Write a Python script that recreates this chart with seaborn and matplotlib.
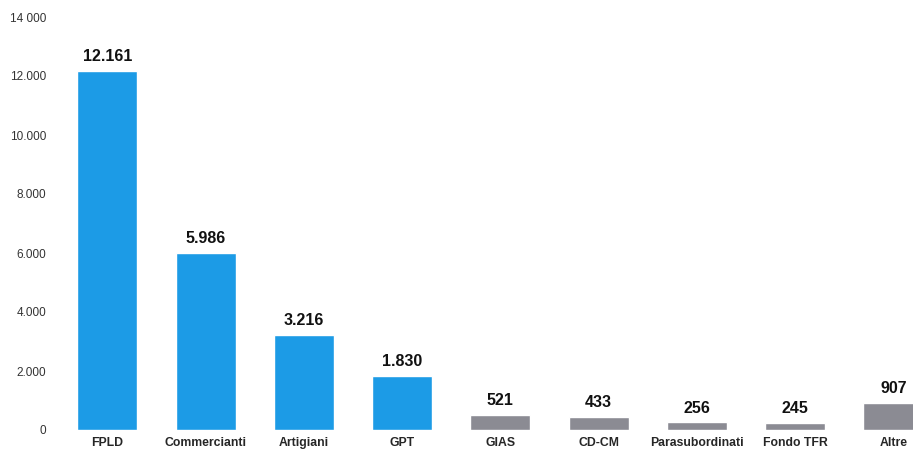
import matplotlib
matplotlib.use("Agg")
import matplotlib.pyplot as plt
import seaborn as sns
import pandas as pd

# Data
categories = ['FPLD', 'Commercianti', 'Artigiani', 'GPT', 'GIAS', 'CD-CM',
              'Parasubordinati', 'Fondo TFR', 'Altre']
values = [12161, 5986, 3216, 1830, 521, 433, 256, 245, 907]
bar_colors = ['#1C9BE6'] * 4 + ['#8B8B93'] * 5
ytick_values = [0, 2000, 4000, 6000, 8000, 10000, 12000, 14000]
ytick_labels = ['0', '2.000', '4.000', '6.000', '8.000', '10.000', '12.000', '14 000']

df = pd.DataFrame({'categoria': categories, 'valore': values})

sns.set_style('white')
plt.rcParams['font.family'] = ['Liberation Sans', 'DejaVu Sans']

fig = plt.figure(figsize=(9.13, 4.53), dpi=100)
ax = fig.add_axes([70 / 913, 23 / 453, 843 / 913, 413 / 453])

sns.barplot(data=df, x='categoria', y='valore', hue='categoria',
            palette=bar_colors, legend=False, width=0.61, saturation=1, ax=ax)

# value labels above bars, italian thousands separator
for cont in ax.containers:
    ax.bar_label(cont, labels=[f'{int(round(v)):,}'.replace(',', '.') for v in cont.datavalues],
                 padding=5, fontsize=11.5, fontweight='bold', color='#111111')

ax.set_xlim(-0.38, 8.2)
ax.set_ylim(0, 14000)
ax.set_yticks(ytick_values)
ax.set_yticklabels(ytick_labels)
ax.tick_params(axis='y', length=0, pad=17, labelsize=8.5, labelcolor='#333333')
ax.tick_params(axis='x', length=0, pad=5, labelsize=8.8)
for lab in ax.get_xticklabels():
    lab.set_fontweight('bold')
ax.set_xlabel('')
ax.set_ylabel('')
sns.despine(ax=ax, left=True, bottom=True)

fig.savefig('out.png', dpi=100)
